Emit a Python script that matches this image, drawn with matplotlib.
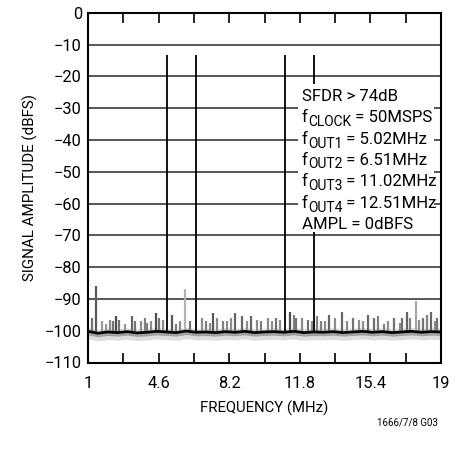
import matplotlib
matplotlib.use("Agg")
import matplotlib.pyplot as plt
from matplotlib.patches import Rectangle
import numpy as np

# ---------------- data ----------------
tone_freq = [5.02, 6.51, 11.02, 12.51]
tone_level = [-13.3, -13.3, -13.3, -13.3]

floor_freq = [1.0, 1.5, 2.0, 2.5, 3.0, 3.5, 4.0, 4.5, 5.0, 5.5, 6.0, 6.5, 7.0, 7.5,
              8.0, 8.5, 9.0, 9.5, 10.0, 10.5, 11.0, 11.5, 12.0, 12.5, 13.0, 13.5,
              14.0, 14.5, 15.0, 15.5, 16.0, 16.5, 17.0, 17.5, 18.0, 18.5, 19.0]
floor_level = [-100.2, -100.8, -100.4, -100.6, -100.3, -100.7, -100.5, -100.2, -100.4,
               -100.6, -100.1, -100.5, -100.4, -100.6, -100.3, -100.5, -100.2, -100.6,
               -100.4, -100.3, -100.5, -100.2, -100.6, -100.4, -100.5, -100.3, -100.6,
               -100.4, -100.2, -100.5, -100.3, -100.6, -100.4, -100.2, -100.5, -100.3, -100.4]

spur_freq = [1.2, 1.41, 1.7, 1.9, 2.1, 2.3, 2.44, 2.6, 2.9, 3.26, 3.4, 3.7, 3.9, 4.0,
             4.2, 4.45, 4.6, 4.8, 5.27, 5.5, 5.7, 5.94, 6.2, 6.8, 7.0, 7.2, 7.38, 7.6,
             7.9, 8.1, 8.3, 8.5, 8.87, 9.1, 9.33, 9.6, 9.8, 10.2, 10.4, 10.6, 10.8,
             11.3, 11.5, 11.6, 11.9, 12.2, 12.4, 12.7, 12.9, 13.1, 13.3, 13.6, 13.96,
             14.2, 14.5, 14.8, 15.0, 15.3, 15.6, 15.8, 16.1, 16.3, 16.6, 16.9, 17.0,
             17.25, 17.4, 17.7, 17.9, 18.1, 18.3, 18.5, 18.7, 18.8]
spur_level = [-96, -86, -97, -98, -96.5, -97, -95.5, -96.5, -98, -95.5, -97, -97, -96,
              -97.5, -97, -94.5, -96, -96.5, -95, -98, -97, -87, -97, -96, -97, -97.5,
              -94.3, -96, -97, -97, -96, -94.3, -95.3, -97, -95.5, -96.5, -97, -96, -97,
              -96, -96.5, -94, -95, -96, -96, -96.5, -97, -95.5, -97, -97, -95, -96, -94,
              -97, -96, -96.5, -97, -95, -96, -95.5, -98, -97, -96, -97.5, -96, -94, -96,
              -90.6, -96.5, -96, -95, -94, -97, -96]
spur_shade = [0.45, 0.35, 0.6, 0.6, 0.55, 0.45, 0.3, 0.45, 0.6, 0.4, 0.45, 0.55, 0.5,
              0.5, 0.55, 0.3, 0.45, 0.55, 0.35, 0.5, 0.55, 0.7, 0.45, 0.55, 0.5, 0.55,
              0.35, 0.55, 0.5, 0.55, 0.55, 0.4, 0.4, 0.55, 0.4, 0.55, 0.5, 0.55, 0.55,
              0.45, 0.55, 0.3, 0.5, 0.45, 0.55, 0.45, 0.55, 0.5, 0.5, 0.55, 0.4, 0.55,
              0.4, 0.55, 0.45, 0.55, 0.55, 0.4, 0.45, 0.5, 0.5, 0.55, 0.45, 0.55, 0.45,
              0.4, 0.5, 0.65, 0.55, 0.45, 0.5, 0.4, 0.55, 0.45]

x_ticks = [1, 4.6, 8.2, 11.8, 15.4, 19]
x_minor = [2.8, 6.4, 10.0, 13.6, 17.2]
y_ticks = [0, -10, -20, -30, -40, -50, -60, -70, -80, -90, -100, -110]

# (main, subscript, rest)
notes = [("SFDR > 74dB", "", ""),
         ("f", "CLOCK", " = 50MSPS"),
         ("f", "OUT1", " = 5.02MHz"),
         ("f", "OUT2", " = 6.51MHz"),
         ("f", "OUT3", " = 11.02MHz"),
         ("f", "OUT4", " = 12.51MHz"),
         ("AMPL = 0dBFS", "", "")]

plt.rcParams["font.family"] = ["Roboto", "DejaVu Sans"]
plt.rcParams["axes.unicode_minus"] = True

W, H = 468, 451
fig = plt.figure(figsize=(W / 100, H / 100), dpi=100)
ax = fig.add_axes([88 / W, 1 - 362.5 / H, (441 - 88) / W, (362.5 - 12.7) / H])
ax.set_xlim(1, 19)
ax.set_ylim(-110, 0)

for y in y_ticks[1:-1]:
    ax.axhline(y, color="#3a3a3a", lw=1.2, zorder=1)

ff = np.array(floor_freq)
fl = np.array(floor_level)
ax.fill_between(ff, fl - 2.4, fl + 1.2, color="#dcdcdc", lw=0, zorder=2)
ax.fill_between(ff, fl - 1.1, fl + 0.6, color="#a0a0a0", lw=0, zorder=2)

for f, lv, s in zip(spur_freq, spur_level, spur_shade):
    ax.vlines(f, -100.5, lv, color=str(s), lw=1.6, zorder=3)

ax.plot(floor_freq, floor_level, color="black", lw=1.9, zorder=4)

for f, lv in zip(tone_freq, tone_level):
    ax.vlines(f, -100.5, lv, color="black", lw=1.3, zorder=5)

for sp in ax.spines.values():
    sp.set_linewidth(1.5)
    sp.set_zorder(10)

ax.set_xticks(x_ticks)
ax.set_xticks(x_minor, minor=True)
ax.set_xticklabels([f"{v:g}" for v in x_ticks])
ax.set_yticks(y_ticks)
ax.set_yticklabels([f"{v}".replace("-", "\u2212") for v in y_ticks])
ax.tick_params(axis="x", which="both", direction="in", top=True, length=7, width=1.2,
               labelsize=11.8, pad=10)
ax.tick_params(axis="y", length=0, labelsize=11.8, pad=4.5)

ax.set_xlabel("FREQUENCY (MHz)", fontsize=10.7, labelpad=7)
ax.set_ylabel("SIGNAL AMPLITUDE (dBFS)", fontsize=10.9, labelpad=5)

# annotation block with white background
fig.add_artist(Rectangle((298 / W, 1 - 232 / H), (434 - 298) / W, (232 - 84) / H,
                         transform=fig.transFigure, facecolor="white",
                         edgecolor="none", zorder=5))
renderer = fig.canvas.get_renderer()
baselines = [101, 122.5, 144, 165, 186, 208, 229]
for (main, sub, rest), b in zip(notes, baselines):
    x = 302.0
    for txt, size, dy in [(main, 12.1, 0), (sub, 10.0, 3.5), (rest, 12.1, 0)]:
        if not txt:
            continue
        t = fig.text(x / W, 1 - (b + dy) / H, txt, fontsize=size, ha="left",
                     va="baseline", zorder=6)
        x += t.get_window_extent(renderer).width

fig.text(438 / W, 1 - 423 / H, "1666/7/8 G03", ha="right", va="center", fontsize=7)

fig.savefig("out.png", dpi=100)
